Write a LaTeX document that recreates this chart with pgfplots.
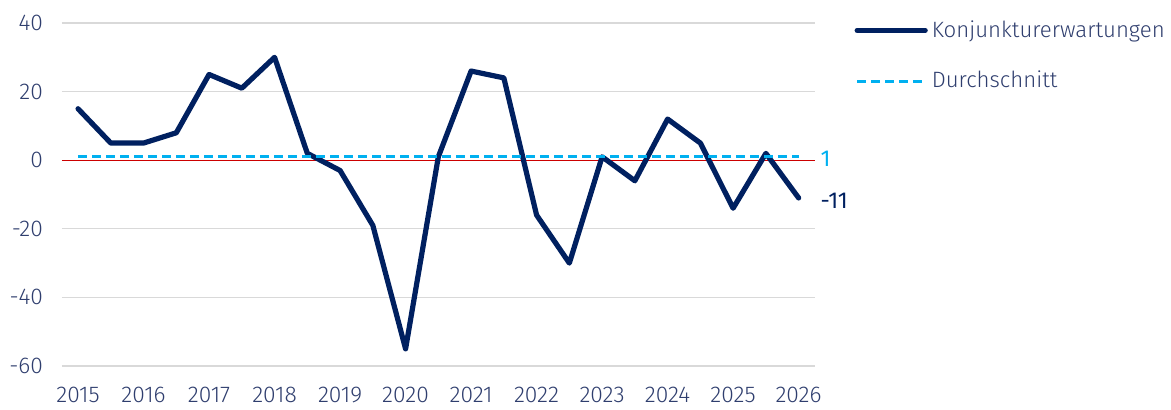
\documentclass[border=0pt]{standalone}
\usepackage{fontspec}
\setmainfont{Fira Sans}[UprightFont=* Light]
\newfontfamily\regfont{Fira Sans}
\usepackage{pgfplots}
\pgfplotsset{compat=1.18}
\definecolor{txt}{RGB}{47,62,110}
\definecolor{navy}{RGB}{0,32,96}
\definecolor{cyanl}{RGB}{0,176,240}
\definecolor{redl}{RGB}{204,0,0}
\definecolor{gridc}{RGB}{217,217,217}
\begin{document}
\begin{tikzpicture}
\useasboundingbox (-31pt,-21.5pt) rectangle (554.5pt,183pt);
\begin{axis}[
  at={(0pt,0pt)}, anchor=south west,
  scale only axis, width=376.5pt, height=171.5pt,
  xmin=2014.755, xmax=2026.25, ymin=-60, ymax=40,
  axis line style={draw=none},
  xtick={2015,...,2026}, ytick={-60,-40,...,40},
  xticklabel style={/pgf/number format/1000 sep={}, yshift=-7pt},
  x tick label style={/pgf/number format/set thousands separator={}},
  yticklabel style={xshift=-6pt},
  ymajorgrids, grid style={gridc, line width=0.6pt},
  major tick length=0pt,
  tick label style={font=\fontsize{11.4}{13}\selectfont, text=txt},
  /pgf/number format/assume math mode=true,
  legend style={at={(1.052,1.02)}, anchor=north west, draw=none, fill=none,
    font=\fontsize{11.1}{13}\selectfont, text=txt,
    row sep=11.5pt, inner sep=0pt},
  legend cell align=left,
  legend image code/.code={\draw[#1] (0pt,0pt) -- (34pt,0pt);},
  clip=false,
]
\addplot[redl, line width=0.6pt, forget plot] coordinates {(2014.755,0) (2026.25,0)};
\addplot[navy, line width=2.6pt, line join=round, line cap=round] coordinates {
(2015,15) (2015.5,5) (2016,5) (2016.5,8) (2017,25) (2017.5,21) (2018,30)
(2018.5,2) (2019,-3) (2019.5,-19) (2020,-55) (2020.5,1) (2021,26) (2021.5,24)
(2022,-16) (2022.5,-30) (2023,1) (2023.5,-6) (2024,12) (2024.5,5) (2025,-14)
(2025.5,2) (2026,-11)};
\addlegendentry{Konjunkturerwartungen}
\addplot[cyanl, line width=1.5pt, dash pattern=on 4.5pt off 2.5pt] coordinates {(2015,1) (2026,1)};
\addlegendentry{Durchschnitt}
\node[anchor=west, text=cyanl, font=\regfont\fontsize{11.5}{13}\selectfont, inner sep=0pt] at (axis cs:2026.33,0.5) {1};
\node[anchor=west, text=navy, font=\regfont\fontsize{11.5}{13}\selectfont, inner sep=0pt] at (axis cs:2026.33,-11.8) {-11};
\end{axis}
\end{tikzpicture}
\end{document}
